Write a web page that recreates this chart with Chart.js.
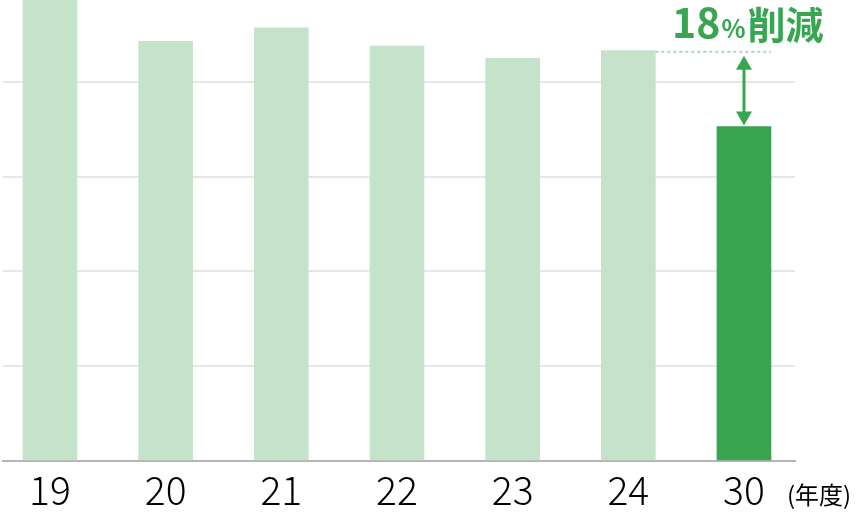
<!DOCTYPE html>
<html>
<head>
<meta charset="utf-8">
<script src="https://cdn.jsdelivr.net/npm/chart.js@4.4.0/dist/chart.umd.min.js"></script>
<style>
  html, body { margin: 0; padding: 0; background: #fff; }
  #wrap { width: 856px; height: 521px; }
</style>
</head>
<body>
<div id="wrap"><canvas id="chart" width="856" height="521"></canvas></div>
<script>
// datos del gráfico
const years = ['19', '20', '21', '22', '23', '24', '30'];
const values = [5.0, 4.43, 4.57, 4.38, 4.25, 4.33, 3.53];
const barColors = ['#c5e3cb', '#c5e3cb', '#c5e3cb', '#c5e3cb', '#c5e3cb', '#c5e3cb', '#38a651'];
const reductionText = ['18', '%', '削減'];
const unitLabel = '(年度)';

const GREEN = '#38a651';
const FONT = '"Noto Sans CJK JP", "Noto Sans", sans-serif';

// anotación: línea punteada, flecha y texto de reducción
const annotationPlugin = {
    id: 'reduccion',
    afterDatasetsDraw(chart) {
        const ctx = chart.ctx;
        const x = chart.scales.x;
        const y = chart.scales.y;
        const yTop = y.getPixelForValue(values[5]);
        const yBottom = y.getPixelForValue(values[6]);
        const xArrow = x.getPixelForValue(6);

        ctx.save();
        // línea punteada
        ctx.strokeStyle = '#a9d8b3';
        ctx.lineWidth = 2;
        ctx.setLineDash([3, 3]);
        ctx.beginPath();
        ctx.moveTo(x.getPixelForValue(5) + 27, yTop + 1);
        ctx.lineTo(xArrow + 27, yTop + 1);
        ctx.stroke();
        ctx.setLineDash([]);

        // flecha doble
        const top = yTop + 5, bottom = yBottom - 1;
        ctx.strokeStyle = GREEN;
        ctx.fillStyle = GREEN;
        ctx.lineWidth = 3;
        ctx.beginPath();
        ctx.moveTo(xArrow, top + 10);
        ctx.lineTo(xArrow, bottom - 10);
        ctx.stroke();
        ctx.beginPath();
        ctx.moveTo(xArrow, top);
        ctx.lineTo(xArrow - 8, top + 14);
        ctx.lineTo(xArrow + 8, top + 14);
        ctx.closePath();
        ctx.fill();
        ctx.beginPath();
        ctx.moveTo(xArrow, bottom);
        ctx.lineTo(xArrow - 8, bottom - 14);
        ctx.lineTo(xArrow + 8, bottom - 14);
        ctx.closePath();
        ctx.fill();

        // texto "18%削減"
        ctx.textBaseline = 'alphabetic';
        ctx.textAlign = 'left';
        let tx = 672;
        const ty = 38;
        ctx.font = 'bold 41px ' + FONT;
        ctx.fillText(reductionText[0], tx, ty);
        tx += ctx.measureText(reductionText[0]).width;
        ctx.font = 'bold 25px ' + FONT;
        ctx.fillText(reductionText[1], tx + 1, ty);
        tx += ctx.measureText(reductionText[1]).width + 3;
        ctx.font = 'bold 38px ' + FONT;
        ctx.fillText(reductionText[2], tx, ty + 1);

        // unidad del eje x
        ctx.fillStyle = '#000';
        ctx.font = '24px ' + FONT;
        ctx.textBaseline = 'middle';
        ctx.fillText(unitLabel, 787, 495);
        ctx.restore();
    }
};

const chart = new Chart(document.getElementById('chart').getContext('2d'), {
    type: 'bar',
    data: {
        datasets: [{
            data: values.map((v, i) => ({ x: i, y: v })),
            backgroundColor: barColors,
            barThickness: 54,
            borderWidth: 0
        }]
    },
    options: {
        responsive: false,
        animation: false,
        layout: { padding: { left: 3, right: 61, top: 0, bottom: 0 } },
        plugins: { legend: { display: false }, tooltip: { enabled: false } },
        scales: {
            x: {
                type: 'linear',
                offset: false,
                min: -0.406,
                max: 6.441,
                grid: { display: false, drawTicks: false, offset: false },
                border: { display: true, color: '#b4b4b4', width: 2 },
                afterBuildTicks: (scale) => { scale.ticks = years.map((_, i) => ({ value: i })); },
                afterFit: (scale) => { scale.height = 60; },
                ticks: {
                    padding: 6,
                    color: '#000',
                    font: { family: FONT, size: 39, weight: 300 },
                    maxRotation: 0,
                    autoSkip: false,
                    callback: (v) => years[v]
                }
            },
            y: {
                min: 0,
                max: 4.865,
                grid: { color: '#e6e6e6', lineWidth: 2, drawTicks: false },
                border: { display: false },
                afterFit: (scale) => { scale.width = 0; },
                ticks: { display: false, stepSize: 1, includeBounds: false }
            }
        }
    },
    plugins: [annotationPlugin]
});
</script>
</body>
</html>
